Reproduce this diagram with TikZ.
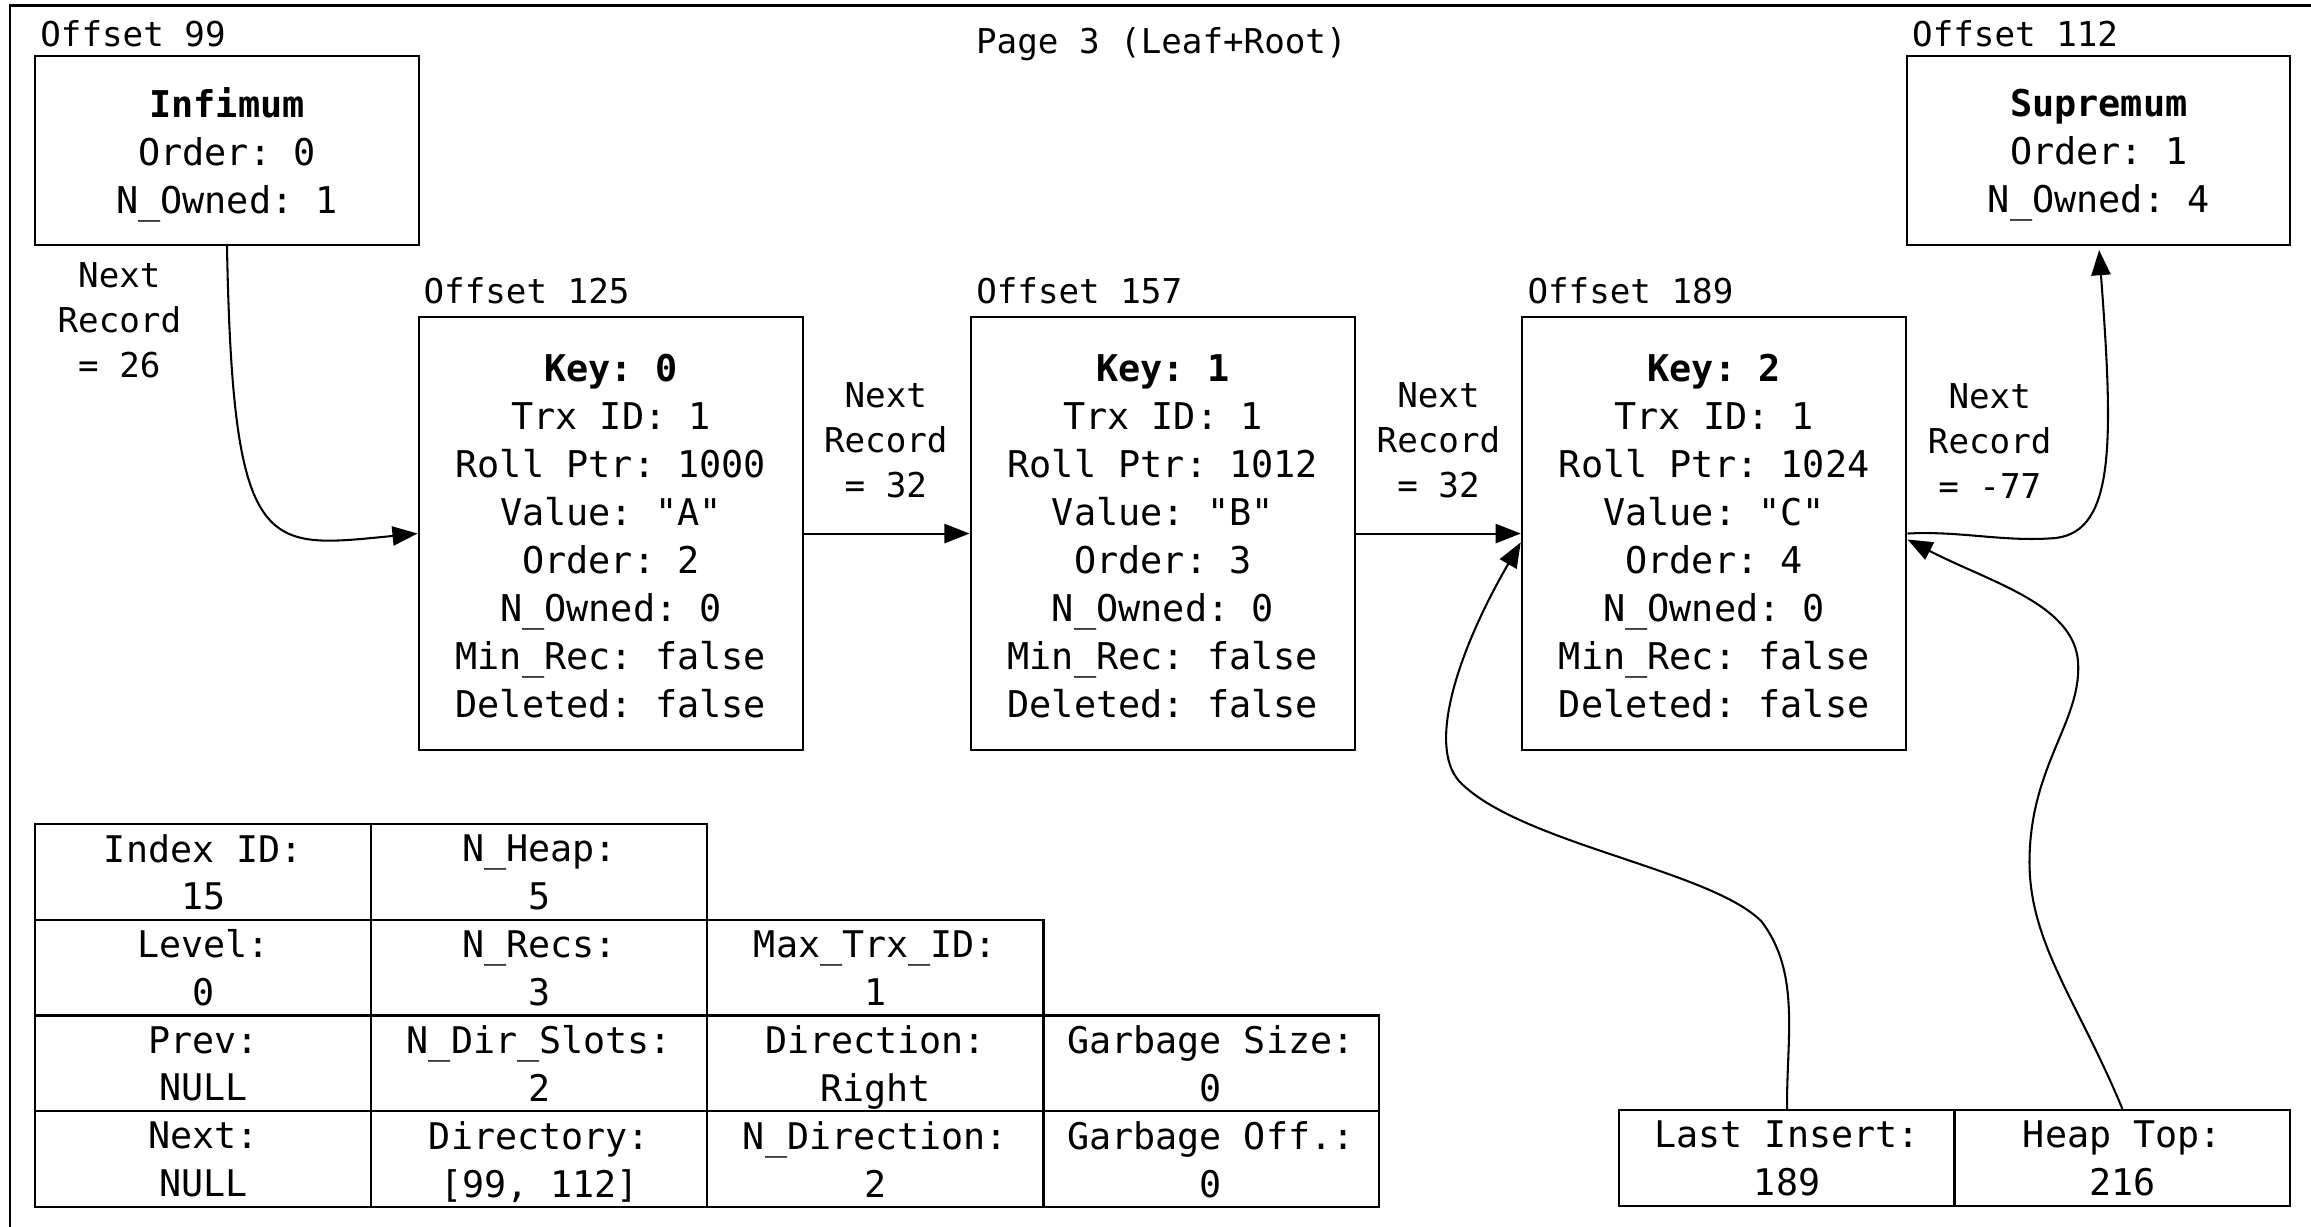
\documentclass[tikz,border=0pt]{standalone}
\usepackage{fontspec}
\setmonofont{DejaVu Sans Mono}
\usetikzlibrary{arrows.meta}

\newcommand{\recfont}{\ttfamily\fontsize{12.5pt}{16.3pt}\selectfont}
\newcommand{\lblfont}{\ttfamily\fontsize{11.6pt}{15.25pt}\selectfont}
\newcommand{\cellfont}{\ttfamily\fontsize{12.45pt}{16.2pt}\selectfont}

\tikzset{
  % boxes: the border is the node, the centred text is its label
  frame/.style={draw, line width=0.7pt, inner sep=0pt},
  boxtext/.style={inner sep=0pt, align=center, execute at end node={\strut}},
  rec/.style={frame, minimum width=130.5pt, minimum height=147pt},
  rectext/.style={boxtext, font=\recfont, yshift=-3.25pt},
  special/.style={frame, minimum width=130pt, minimum height=64pt},
  spectext/.style={boxtext, font=\recfont, yshift=-2.5pt},
  cell/.style={frame, minimum width=114pt, minimum height=32.5pt},
  celltext/.style={boxtext, font=\cellfont, yshift=-2.5pt},
  lbl/.style={inner sep=0pt, font=\lblfont},
  nextlbl/.style={inner sep=0pt, align=center, font=\lblfont},
  link/.style={line width=0.7pt, -{Triangle[length=8.5pt,width=6.5pt]}},
}

\begin{document}
\begin{tikzpicture}[x=0.5pt, y=-0.5pt]
\useasboundingbox (0,0) rectangle (1568,832);
\clip (0,0) rectangle (1568,832);

% page frame (runs off the right and bottom edges)
\draw[line width=1pt] (6.8,850) -- (6.8,4) -- (1590,4);

\node[lbl] (title) at (788,30) {Page 3 (Leaf+Root)};

% infimum / supremum records
\node[lbl, anchor=west] (off99) at (27,23) {Offset 99};
\node[special, label={[spectext]center:{\textbf{Infimum}\\Order: 0\\N\_Owned: 1}}] (inf) at (154,102) {};
\node[lbl, anchor=west] (off112) at (1297,23) {Offset 112};
\node[special, label={[spectext]center:{\textbf{Supremum}\\Order: 1\\N\_Owned: 4}}] (sup) at (1424,102) {};

% user records
\node[lbl, anchor=west] (off125) at (287,197) {Offset 125};
\node[rec, label={[rectext]center:{\textbf{Key: 0}\\Trx ID: 1\\Roll Ptr: 1000\\Value: "A"\\Order: 2\\N\_Owned: 0\\Min\_Rec: false\\Deleted: false}}] (k0) at (414.5,362) {};
\node[lbl, anchor=west] (off157) at (662,197) {Offset 157};
\node[rec, label={[rectext]center:{\textbf{Key: 1}\\Trx ID: 1\\Roll Ptr: 1012\\Value: "B"\\Order: 3\\N\_Owned: 0\\Min\_Rec: false\\Deleted: false}}] (k1) at (789,362) {};
\node[lbl, anchor=west] (off189) at (1036,197) {Offset 189};
\node[rec, label={[rectext]center:{\textbf{Key: 2}\\Trx ID: 1\\Roll Ptr: 1024\\Value: "C"\\Order: 4\\N\_Owned: 0\\Min\_Rec: false\\Deleted: false}}] (k2) at (1163,362) {};

% next-record labels
\node[nextlbl] (nr0) at (81,217) {Next\\Record\\= 26};
\node[nextlbl] (nr1) at (601,299) {Next\\Record\\= 32};
\node[nextlbl] (nr2) at (976,299) {Next\\Record\\= 32};
\node[nextlbl] (nr3) at (1350,299) {Next\\Record\\= -77};

% page header fields
\node[cell, label={[celltext]center:{Index ID:\\15}}]        (idx)    at (138,591.5) {};
\node[cell, label={[celltext]center:{N\_Heap:\\5}}]          (nheap)  at (366,591.5) {};
\node[cell, label={[celltext]center:{Level:\\0}}]            (lvl)    at (138,656.5) {};
\node[cell, label={[celltext]center:{N\_Recs:\\3}}]          (nrecs)  at (366,656.5) {};
\node[cell, label={[celltext]center:{Max\_Trx\_ID:\\1}}]     (maxtrx) at (594,656.5) {};
\node[cell, label={[celltext]center:{Prev:\\NULL}}]          (prev)   at (138,721.5) {};
\node[cell, label={[celltext]center:{N\_Dir\_Slots:\\2}}]    (ndir)   at (366,721.5) {};
\node[cell, label={[celltext]center:{Direction:\\Right}}]    (dirn)   at (594,721.5) {};
\node[cell, label={[celltext]center:{Garbage Size:\\0}}]     (gsize)  at (821.5,721.5) {};
\node[cell, label={[celltext]center:{Next:\\NULL}}]          (next)   at (138,786.5) {};
\node[cell, label={[celltext]center:{Directory:\\{}[99, 112]}}] (dir) at (366,786.5) {};
\node[cell, label={[celltext]center:{N\_Direction:\\2}}]     (ndirn)  at (594,786.5) {};
\node[cell, label={[celltext]center:{Garbage Off.:\\0}}]     (goff)   at (821.5,786.5) {};

\node[cell, label={[celltext]center:{Last Insert:\\189}}] (last) at (1212.5,785.5) {};
\node[cell, label={[celltext]center:{Heap Top:\\216}}]    (heap) at (1440,785.5) {};

% record chain
\draw[link] (inf.south) .. controls (158,380) and (180,372) .. (k0.west);
\draw[link] (k0.east) -- (k1.west);
\draw[link] (k1.east) -- (k2.west);
\draw[link, shorten >=1.5pt] (k2.east) .. controls (1330,360) and (1360,368) .. (1395,365)
  .. controls (1435,360) and (1434,300) .. (sup.south);

% header pointers into the record heap
\draw[link] (last.north) .. controls (1212,705) and (1222,660) .. (1195,625)
  .. controls (1160,590) and (1030,572) .. (990,530)
  .. controls (968,505) and (990,440) .. ([yshift=-3pt]k2.west);
\draw[link] (heap.north) .. controls (1410,680) and (1377,640) .. (1377,585)
  .. controls (1377,520) and (1412,490) .. (1410,450)
  .. controls (1408,410) and (1350,395) .. ([yshift=-2pt]k2.east);
\end{tikzpicture}
\end{document}
